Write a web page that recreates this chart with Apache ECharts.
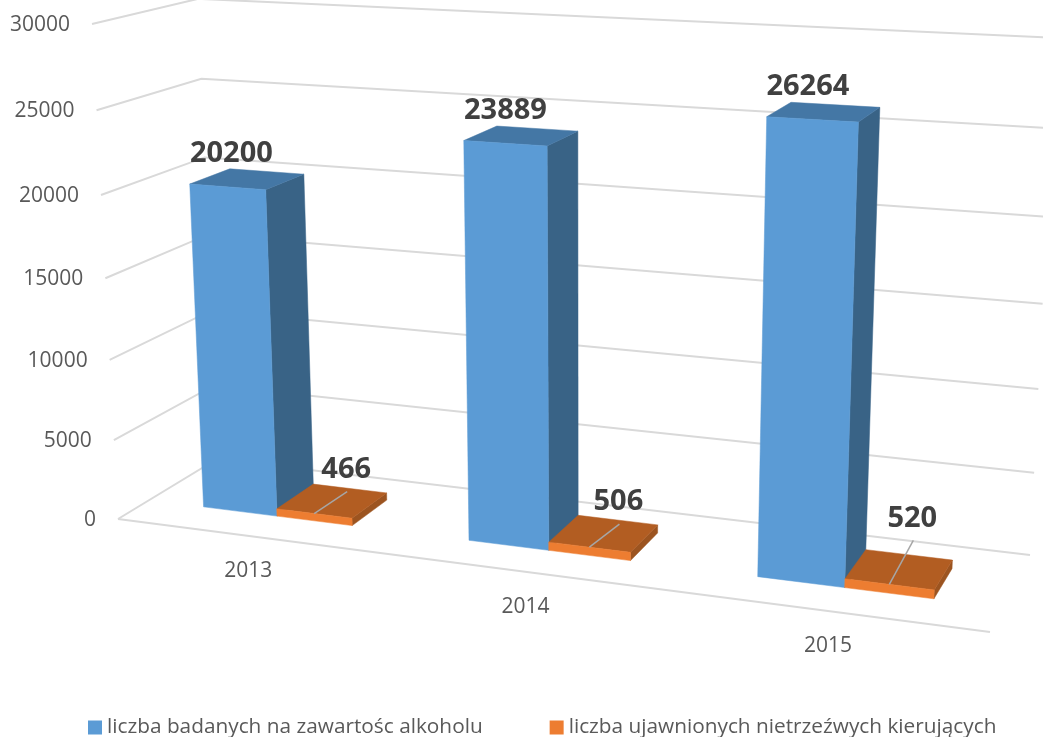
<!DOCTYPE html>
<html>
<head>
<meta charset="utf-8">
<style>html,body{margin:0;padding:0;background:#fff}#chart{width:1043px;height:737px}</style>
<script src="https://cdn.jsdelivr.net/npm/echarts@6/dist/echarts.min.js"></script>
</head>
<body>
<div id="chart"></div>
<script>
const years = ['2013', '2014', '2015'];
const tested = [20200, 23889, 26264];
const drunk = [466, 506, 520];
const ticks = [0, 5000, 10000, 15000, 20000, 25000, 30000];
const testedName = 'liczba badanych na zawartośc alkoholu';
const drunkName = 'liczba ujawnionych nietrzeźwych kierujących';

// the picture's box in screen space: floor corners and two top corners
// (the top right corner sits past the canvas edge, the gridlines run off the page)
const FL = [118, 519], FR = [990, 632], BR = [1030, 555], BL = [217, 459];
const TOP_FL = [92, 24], TOP_BR = [1056, 41];
const FONT = '"Open Sans", sans-serif';
const BAR_FRAC = 0.57;      // both bars together, share of a category band
const DEPTH = [0.3, 0.7];   // front and back of a bar in the box depth
// manually dragged labels of the small bars
const drunkLabelShift = [[32, -44], [29, -45], [23, -66]];

// floor homography (unit square -> quad), then the vertical column of the 3x4 matrix
const P = (function () {
    const dx1 = FR[0] - BR[0], dx2 = BL[0] - BR[0], sx = FL[0] - FR[0] + BR[0] - BL[0];
    const dy1 = FR[1] - BR[1], dy2 = BL[1] - BR[1], sy = FL[1] - FR[1] + BR[1] - BL[1];
    const det = dx1 * dy2 - dx2 * dy1;
    const g = (sx * dy2 - dx2 * sy) / det, h = (dx1 * sy - sx * dy1) / det;
    const c1 = [FR[0] - FL[0] + g * FR[0], FR[1] - FL[1] + g * FR[1], g];
    const c2 = [BL[0] - FL[0] + h * BL[0], BL[1] - FL[1] + h * BL[1], h];
    const c4 = [FL[0], FL[1], 1];
    const k = (c1[0] + c2[0] - TOP_BR[0] * (g + h)) / (TOP_BR[0] - TOP_FL[0]);
    const c3 = [k * TOP_FL[0] - c4[0], k * TOP_FL[1] - c4[1], k - 1];
    return [c1, c2, c3, c4];
})();

function project(x, y, z) {
    const out = [0, 1, 2].map(i => P[0][i] * x + P[1][i] * y + P[2][i] * z + P[3][i]);
    return [out[0] / out[2], out[1] / out[2]];
}

// axis pixel -> box coordinates (the hidden grid fills the whole chart)
const boxX = (api, cat, shift) => (api.coord([cat, 0])[0] + shift * api.size([1, 0])[0]) / api.getWidth();
const boxZ = (api, val) => (api.getHeight() - api.coord([0, val])[1]) / api.getHeight();

function face(points, fill) {
    return { type: 'polygon', shape: { points }, style: { fill, stroke: fill, lineWidth: 0.5 } };
}
function line(points, stroke, lineWidth) {
    return { type: 'polyline', shape: { points }, style: { fill: null, stroke, lineWidth } };
}
function text(pos, str, font, fill, align) {
    return { type: 'text', style: { x: pos[0], y: pos[1], text: str, font, fill, align: align || 'center', verticalAlign: 'middle' } };
}

function renderTick(params, api) {
    const z = boxZ(api, api.value(1));
    const corner = project(0, 0, z);
    const children = [
        line([corner, project(0, 1, z), project(1, 1, z)], '#D9D9D9', 2),
        text([corner[0] - 22, corner[1] + 1], String(api.value(1)), '21px ' + FONT, '#595959', 'right')
    ];
    if (api.value(1) === 0) children.push(line([FL, FR], '#D9D9D9', 2));
    return { type: 'group', children };
}

function renderYear(params, api) {
    const pos = project(boxX(api, api.value(0), 0), 0, 0);
    return text([pos[0], pos[1] + 35], years[api.value(0)], '21px ' + FONT, '#595959');
}

// one 3D bar; side = 0 left bar of the cluster, 1 right bar
function bar(api, side, colors) {
    const cat = api.value(0), val = api.value(1);
    const x0 = boxX(api, cat, (side - 1) * BAR_FRAC / 2);
    const x1 = boxX(api, cat, side * BAR_FRAC / 2);
    const z = boxZ(api, val);
    const [y0, y1] = DEPTH;
    return {
        x0, x1, z, y0, y1,
        faces: [
            face([project(x1, y0, 0), project(x1, y1, 0), project(x1, y1, z), project(x1, y0, z)], colors[2]),
            face([project(x0, y0, z), project(x1, y0, z), project(x1, y1, z), project(x0, y1, z)], colors[1]),
            face([project(x0, y0, 0), project(x1, y0, 0), project(x1, y0, z), project(x0, y0, z)], colors[0])
        ]
    };
}

function renderTested(params, api) {
    const b = bar(api, 0, ['#5B9BD5', '#4477A5', '#396386']);
    const top = project((b.x0 + b.x1) / 2, (b.y0 + b.y1) / 2, b.z);
    return {
        type: 'group',
        children: b.faces.concat(text([top[0] - 16, top[1] - 25], String(api.value(1)), 'bold 29px ' + FONT, '#404040'))
    };
}

function renderDrunk(params, api) {
    const b = bar(api, 1, ['#ED7D31', '#B25D22', '#9C5420']);
    const mid = project((b.x0 + b.x1) / 2, b.y0, b.z);
    const shift = drunkLabelShift[api.value(0)];
    const label = [mid[0] + shift[0], mid[1] + shift[1]];
    return {
        type: 'group',
        children: b.faces.concat(
            line([mid, [label[0] + 1, label[1] + 22]], '#A6A6A6', 1.5),
            text(label, String(api.value(1)), 'bold 29px ' + FONT, '#404040')
        )
    };
}

const chart = echarts.init(document.getElementById('chart'));
chart.setOption({
    animation: false,
    backgroundColor: '#fff',
    grid: { left: 0, right: 0, top: 0, bottom: 0 },
    xAxis: { type: 'category', data: years, show: false },
    yAxis: { type: 'value', min: 0, max: 30000, interval: 5000, show: false },
    legend: {
        data: [testedName, drunkName],
        left: 88, top: 717,
        padding: 0,
        icon: 'rect',
        itemWidth: 14, itemHeight: 14,
        itemGap: 67,
        selectedMode: false,
        textStyle: { color: '#595959', fontSize: 20.8, fontFamily: 'Open Sans' }
    },
    series: [
        { type: 'custom', silent: true, renderItem: renderTick, data: ticks.map(t => [0, t]), encode: { x: 0, y: 1 }, clip: false },
        { type: 'custom', silent: true, renderItem: renderYear, data: years.map((y, i) => [i, 0]), encode: { x: 0, y: 1 }, clip: false },
        { type: 'custom', silent: true, name: testedName, itemStyle: { color: '#5B9BD5' }, renderItem: renderTested, data: tested.map((v, i) => [i, v]), encode: { x: 0, y: 1 }, clip: false },
        { type: 'custom', silent: true, name: drunkName, itemStyle: { color: '#ED7D31' }, renderItem: renderDrunk, data: drunk.map((v, i) => [i, v]), encode: { x: 0, y: 1 }, clip: false }
    ]
});
</script>
</body>
</html>
